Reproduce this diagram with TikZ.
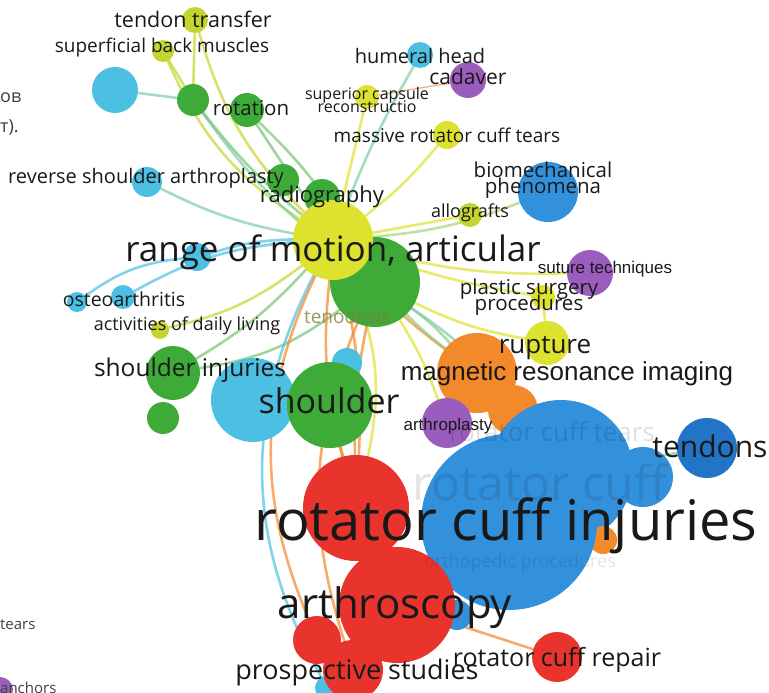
\documentclass[tikz,border=0pt]{standalone}
\usepackage{fontspec}
\setmainfont{Open Sans}
\newfontfamily\arialfont{Liberation Sans}
\usetikzlibrary{positioning}

\definecolor{cYel}{HTML}{DCE22E}
\definecolor{cLime}{HTML}{C4D52F}
\definecolor{cGrn}{HTML}{3EAB39}
\definecolor{cCyan}{HTML}{4CC0E2}
\definecolor{cBlue}{HTML}{3390DB}
\definecolor{cDark}{HTML}{2274C6}
\definecolor{cRed}{HTML}{E9332D}
\definecolor{cOra}{HTML}{F2892A}
\definecolor{cPur}{HTML}{9A5DBE}
\definecolor{cTeal}{HTML}{7DCCA8}
\definecolor{cOlive}{HTML}{7F7F35}

\pgfdeclarelayer{links}
\pgfdeclarelayer{words}
\pgfsetlayers{links,main,words}

\begin{document}
\begin{tikzpicture}[
    x=1pt, y=-1pt,
    term/.style={circle, inner sep=0pt, minimum size=#1},
    word/.style={font=\fontsize{#1}{#1}\selectfont, text=black!90, inner sep=0pt, align=center},
    aword/.style={font=\arialfont\fontsize{#1}{#1}\selectfont, text=black!90, inner sep=0pt},
    link/.style={line width=2.6pt, opacity=0.7, line cap=round}
]
\useasboundingbox (0,0) rectangle (769,693);
\clip (0,0) rectangle (769,693);

% circles
\node[term=26, fill=cLime] (tt) at (195,20) {};
\node[term=22, fill=cLime] (sbm) at (163,51) {};
\node[term=46, fill=cCyan] (cy1) at (115,90) {};
\node[term=32, fill=cGrn] (gr1) at (193,100) {};
\node[term=34, fill=cGrn] (rot) at (247,110) {};
\node[term=26, fill=cCyan] (hh) at (420,55) {};
\node[term=36, fill=cPur] (cad) at (468,80) {};
\node[term=24, fill=cYel] (sup) at (367,97) {};
\node[term=28, fill=cYel] (mrc) at (447,135) {};
\node[term=60, fill=cBlue] (bio) at (548,192) {};
\node[term=24, fill=cLime] (allo) at (470,215) {};
\node[term=30, fill=cCyan] (rsa) at (147,182) {};
\node[term=32, fill=cGrn] (gr2) at (283,180) {};
\node[term=36, fill=cGrn] (rad) at (322,197) {};
\node[term=90, fill=cGrn] (teno) at (375,282) {};
\node[term=80, fill=cYel] (rom) at (333,240) {};
\node[term=28, fill=cCyan] (cy2) at (197,257) {};
\node[term=20, fill=cCyan] (ost) at (77,302) {};
\node[term=24, fill=cCyan] (cy3) at (123,297) {};
\node[term=18, fill=cLime] (adl) at (160,330) {};
\node[term=30, fill=cCyan] (cy4) at (347,363) {};
\node[term=54, fill=cGrn] (inj) at (173,373) {};
\node[term=32, fill=cGrn] (gr3) at (163,418) {};
\node[term=84, fill=cCyan] (cy5) at (253,400) {};
\node[term=86, fill=cGrn] (sho) at (330,405) {};
\node[term=46, fill=cPur] (sut) at (590,273) {};
\node[term=24, fill=cYel] (psp) at (543,297) {};
\node[term=44, fill=cYel] (rup) at (547,343) {};
\node[term=80, fill=cOra] (mri) at (477,373) {};
\node[term=50, fill=cOra] (ora2) at (513,410) {};
\node[term=50, fill=cPur] (arth) at (447,423) {};
\node[term=20, fill=cGrn] (gr4) at (520,425) {};
\node[term=60, fill=cBlue] (rgt) at (643,477) {};
\node[term=144, fill=cBlue] (rct) at (561,472) {};
\node[term=60, fill=cDark] (ten) at (707,448) {};
\node[term=28, fill=cOra] (ora3) at (603,540) {};
\node[term=106, fill=cRed] (red1) at (356,508) {};
\node[term=176, fill=cBlue] (rci) at (509,522) {};
\node[term=30, fill=cBlue] (bl2) at (457,615) {};
\node[term=24, fill=cCyan] (cy6) at (327,688) {};
\node[term=116, fill=cRed] (red2) at (397,605) {};
\node[term=48, fill=cRed] (red3) at (317,640) {};
\node[term=60, fill=cRed] (red4) at (353,670) {};
\node[term=50, fill=cRed] (rcr) at (557,657) {};
\node[term=26, fill=cPur] (anc) at (0,690) {};

% links
\begin{pgfonlayer}{links}
\draw[link, cLime] (tt) -- (gr1);
\draw[link, cLime] (sbm) -- (gr1);
\draw[link, cLime] (tt) to[bend right=14] (rom);
\draw[link, cLime] (sbm) to[bend right=16] (rom);
\draw[link, cTeal] (cy1) -- (gr1);
\draw[link, cTeal] (gr1) to[bend right=8] (teno);
\draw[link, cGrn!70] (gr1) to[bend right=6] (rom);
\draw[link, cGrn!70] (rot) to[bend left=8] (teno);
\draw[link, cGrn!70] (rot) -- (rom);
\draw[link, cTeal] (rsa) to[bend right=8] (rom);
\draw[link, cTeal] (hh) to[bend right=4] (rom);
\draw[link, cOra, line width=1.2pt] (cad) -- (sup);
\draw[link, cYel] (sup) -- (rom);
\draw[link, cYel] (mrc) to[bend left=6] (rom);
\draw[link, cTeal!60!cYel] (bio) to[bend left=8] (rom);
\draw[link, cYel] (allo) -- (rom);
\draw[link, cYel] (sut) to[bend left=8] (rom);
\draw[link, cYel] (psp) to[bend left=5] (rom);
\draw[link, cYel] (psp) -- (rup);
\draw[link, cYel] (rup) to[bend left=8] (teno);
\draw[link, cGrn!60] (mri) to[bend right=6] (teno);
\draw[link, cOra] (mri) to[bend left=6] (rom);
\draw[link, cCyan] (ost) to[bend left=15] (cy2);
\draw[link, cCyan] (cy2) to[bend left=8] (rom);
\draw[link, cCyan] (cy3) to[bend left=12] (rom);
\draw[link, cLime] (adl) to[bend right=12] (rom);
\draw[link, cGrn!70] (inj) to[bend right=14] (teno);
\draw[link, cGrn!70] (inj) to[bend right=8] (rom);
\draw[link, cOra] (rom) to[bend right=10] (red1);
\draw[link, cOra] (rom) to[bend left=8] (red1);
\draw[link, cYel] (rom) to[bend left=18] (red1);
\draw[link, cOra] (teno) to[bend right=6] (red1);
\draw[link, cYel] (teno) to[bend left=6] (arth);
\draw[link, cTeal] (teno) to[bend left=10] (rct);
\draw[link, cGrn!60] (teno) to[bend right=4] (mri);
\draw[link, cOra] (sho) -- (red1);
\draw[link, cCyan] (rom) to[bend right=28] (cy6);
\draw[link, cOra] (rom) to[bend right=24] (red3);
\draw[link, cOra] (teno) to[bend right=20] (red4);
\draw[link, cOra] (red2) -- (rcr);
\draw[link, cTeal] (rct) -- (ten);
\end{pgfonlayer}

% labels
\begin{pgfonlayer}{words}
\node[word=21.5] (ttL) at (193,19) {tendon transfer};
\node[word=19] (sbmL) at (162,48) {superficial back muscles};
\node[word=20.5] (rotL) at (251,108) {rotation};
\node[word=20] (rsaL) at (146,178) {reverse shoulder arthroplasty};
\node[word=22] (radL) at (322,197) {radiography};
\node[word=20] (hhL) at (420,56) {humeral head};
\node[word=21] (cadL) at (468,77) {cadaver};
\node[word=16] (supL) at (367,100) {superior capsule\\[-3pt]reconstructio};
\node[word=19] (mrcL) at (447,135) {massive rotator cuff tears};
\node[word=20.5] (bioL) at (543,180) {biomechanical\\[-4pt]phenomena};
\node[word=18] (alloL) at (470,213) {allografts};
\node[word=35] (romL) at (333,252) {range of motion, articular};
\node[aword=17] (sutL) at (605,269) {suture techniques};
\node[word=20.5] (pspL) at (529,297) {plastic surgery\\[-4pt]procedures};
\node[word=19.5] (ostL) at (124,299) {osteoarthritis};
\node[word=18] (adlL) at (187,326) {activities of daily living};
\node[word=19, text=cOlive, opacity=0.8] (tenoL) at (347,316) {tenodesis};
\node[word=26] (rupL) at (545,348) {rupture};
\node[aword=26] (mriL) at (567,374) {magnetic resonance imaging};
\node[word=24.5] (injL) at (190,370) {shoulder injuries};
\node[word=34] (shoL) at (329,401) {shoulder};
\node[aword=17] (arthL) at (448,426) {arthroplasty};
\node[word=26, text=black, opacity=0.12] (rctL) at (552,432) {rotator cuff tears};
\node[word=48, text=black, opacity=0.1] (rcL) at (540,482) {rotator cuff};
\node[word=18, text=black, opacity=0.1] (opL) at (520,563) {orthopedic procedures};
\node[word=30] (tenL) at (710,446) {tendons};
\node[word=56] (rciL) at (506,526) {rotator cuff injuries};
\node[word=42] (red2L) at (395,608) {arthroscopy};
\node[word=27] (red4L) at (357,672) {prospective studies};
\node[word=25] (rcrL) at (557,660) {rotator cuff repair};
\node[word=18, text=black!75, anchor=west] (ovL) at (0,98) {ов};
\node[word=18, text=black!75, anchor=west] (tL) at (0,127) {т).};
\node[word=15, text=black!75, anchor=west] (tearsL) at (0,625) {tears};
\node[word=15, text=black!75, anchor=west] (ancL) at (0,688) {anchors};
\end{pgfonlayer}

\end{tikzpicture}
\end{document}
